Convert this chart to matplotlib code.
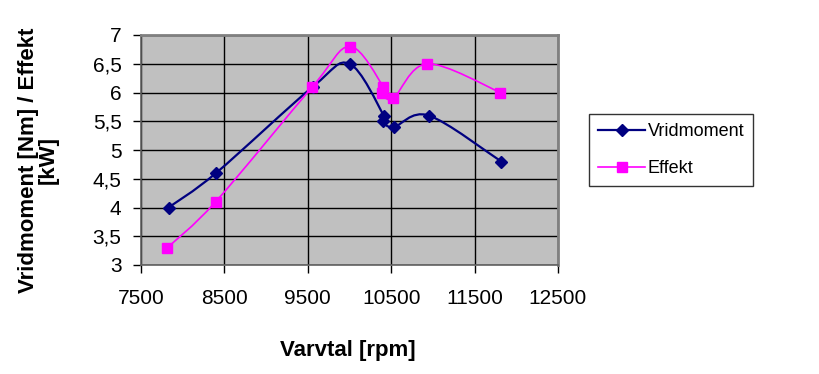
import numpy as np
import matplotlib
matplotlib.use("Agg")
import matplotlib.pyplot as plt
from matplotlib.path import Path
from matplotlib.patches import PathPatch
from matplotlib.lines import Line2D

plt.rcParams['font.family'] = ['Liberation Sans', 'DejaVu Sans']

rpm_vrid = [7830, 8400, 9560, 10000, 10410, 10400, 10530, 10950, 11820]
vridmoment = [4.0, 4.6, 6.1, 6.5, 5.6, 5.5, 5.4, 5.6, 4.8]
rpm_eff = [7815, 8395, 9555, 10005, 10405, 10395, 10525, 10935, 11810]
effekt = [3.3, 4.1, 6.1, 6.8, 6.1, 6.0, 5.9, 6.5, 6.0]

x_ticks = [7500, 8500, 9500, 10500, 11500, 12500]
y_ticks = [3, 3.5, 4, 4.5, 5, 5.5, 6, 6.5, 7]
y_ticklabels = ['3', '3,5', '4', '4,5', '5', '5,5', '6', '6,5', '7']

NAVY = '#000080'
MAGENTA = '#FF00FF'

fig = plt.figure(figsize=(8.19, 3.74), dpi=100)
W, H = 819, 374
left, right, top, bottom = 141, 558, 35, 265
ax = fig.add_axes([left / W, 1 - bottom / H, (right - left) / W, (bottom - top) / H])
ax.set_facecolor('#C0C0C0')


def smooth_path(xs, ys, ax):
    # Excel-like smoothed line: Catmull-Rom converted to cubic Bezier, in display space
    pts = ax.transData.transform(np.column_stack([xs, ys]))
    n = len(pts)
    verts = [pts[0]]
    codes = [Path.MOVETO]
    for i in range(n - 1):
        p0 = pts[i - 1] if i > 0 else pts[i]
        p1 = pts[i]
        p2 = pts[i + 1]
        p3 = pts[i + 2] if i + 2 < n else pts[i + 1]
        c1 = p1 + (p2 - p0) / 6.0
        c2 = p2 - (p3 - p1) / 6.0
        verts += [c1, c2, p2]
        codes += [Path.CURVE4] * 3
    inv = ax.transData.inverted()
    return Path(inv.transform(np.array(verts)), codes)


ax.set_xlim(7500, 12500)
ax.set_ylim(3, 7)
ax.set_xticks(x_ticks)
ax.set_yticks(y_ticks)
ax.set_yticklabels(y_ticklabels)
ax.grid(True, color='black', linewidth=1.0)
ax.set_axisbelow(True)

p1 = smooth_path(rpm_vrid, vridmoment, ax)
ax.add_patch(PathPatch(p1, facecolor='none', edgecolor=NAVY, linewidth=1.6, zorder=3))
ax.plot(rpm_vrid, vridmoment, linestyle='none', marker='D', markersize=6.0,
        color=NAVY, zorder=4)

p2 = smooth_path(rpm_eff, effekt, ax)
ax.add_patch(PathPatch(p2, facecolor='none', edgecolor=MAGENTA, linewidth=1.2, zorder=3))
ax.plot(rpm_eff, effekt, linestyle='none', marker='s', markersize=7.2,
        color=MAGENTA, zorder=4)

for s in ['top', 'right']:
    ax.spines[s].set_color('#808080')
    ax.spines[s].set_linewidth(2)
for s in ['left', 'bottom']:
    ax.spines[s].set_color('#606060')
    ax.spines[s].set_linewidth(1.2)

ax.tick_params(axis='both', direction='out', length=6, width=1, colors='black',
               labelsize=15)
ax.tick_params(axis='x', pad=11)
ax.tick_params(axis='y', pad=8)

ax.set_xlabel('Varvtal [rpm]', fontsize=16, fontweight='bold')
ax.set_ylabel('Vridmoment [Nm] / Effekt\n[kW]', fontsize=16, fontweight='bold',
              linespacing=0.92)
ax.xaxis.label.set_va('center')
ax.yaxis.label.set_va('center')
ax.xaxis.set_label_coords(0.495, -0.37)
ax.yaxis.set_label_coords(-0.247, 0.457)

handles = [
    Line2D([], [], color=NAVY, linewidth=1.6, marker='D', markersize=6.0),
    Line2D([], [], color=MAGENTA, linewidth=1.2, marker='s', markersize=7.2),
]
leg = fig.legend(handles, ['Vridmoment', 'Effekt'], loc='upper left',
                 bbox_to_anchor=(589 / W, 1 - 114 / H), frameon=True,
                 fancybox=False, edgecolor='black', fontsize=13.0,
                 handlelength=2.6, borderpad=0.5, labelspacing=1.1,
                 handletextpad=0.15, borderaxespad=0)
leg.get_frame().set_linewidth(1.0)

fig.savefig('out.png', dpi=100)
